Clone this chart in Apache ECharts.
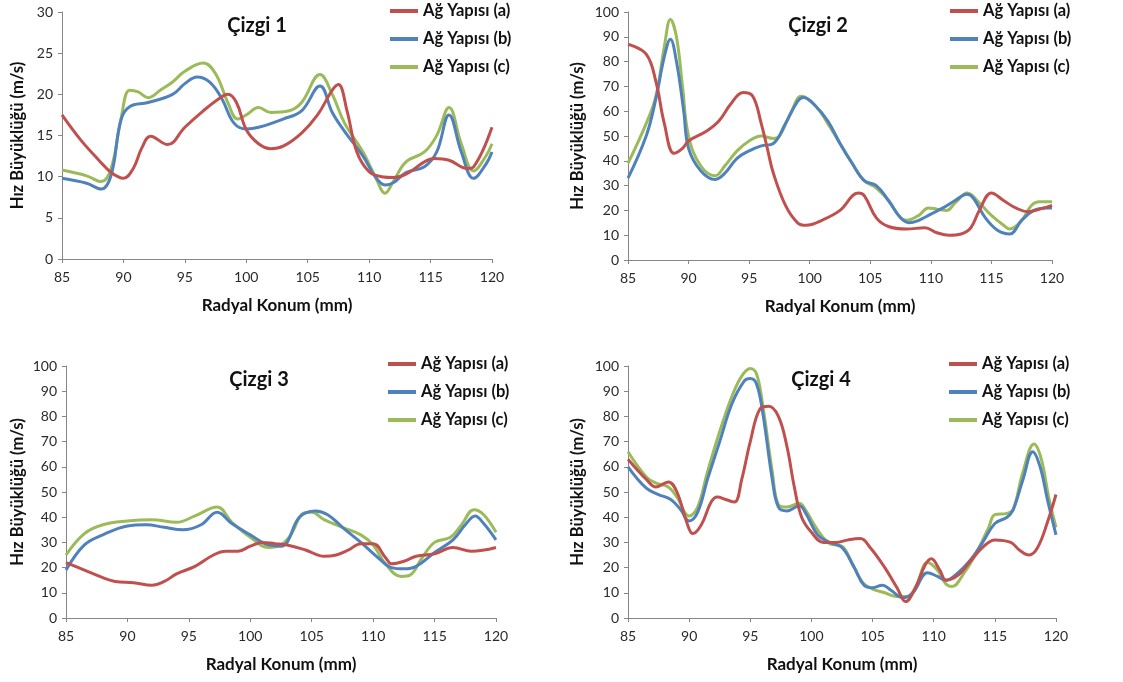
<!DOCTYPE html>
<html>
<head>
<meta charset="utf-8">
<script src="https://cdn.jsdelivr.net/npm/echarts@6/dist/echarts.min.js"></script>
<style>
  html, body { margin: 0; padding: 0; background: #fff; }
  #main { width: 1123px; height: 682px; }
</style>
</head>
<body>
<div id="main"></div>
<script>
// seri adlari ve eksen metinleri
var seriesNames = ['Ağ Yapısı (a)', 'Ağ Yapısı (b)', 'Ağ Yapısı (c)'];
var panelTitles = ['Çizgi 1', 'Çizgi 2', 'Çizgi 3', 'Çizgi 4'];
var xName = 'Radyal Konum (mm)';
var yName = 'Hız Büyüklüğü (m/s)';
var yMax = [30, 100, 100, 100];
var yStep = [5, 10, 10, 10];

// Çizgi 1  [radyal konum, hiz]
var c1a = [[85,17.5],[86.5,14.5],[88,12],[89,10.5],[90,9.8],[90.8,11],[91.5,13.5],[92.2,14.9],[93.6,13.9],[95,16],[96.5,18],[97.8,19.5],[98.5,20],[99.2,19],[100,15.7],[101,14],[102,13.4],[103,13.7],[104.5,15.3],[105.8,17.5],[107,20.5],[107.5,21.2],[108.2,18],[109,13],[110,10.6],[111,10],[112,9.9],[113,10.3],[114.5,11.8],[115.3,12.2],[116.5,12],[118,11],[118.5,11.2],[120,16]];
var c1b = [[85,9.8],[87,9.2],[88.2,8.5],[89,10.2],[89.8,16.9],[90.5,18.5],[92,19],[94,20],[95,21.3],[96,22.1],[97,21.5],[98,19.5],[99,16.5],[100,15.8],[101,16],[103,17],[104.5,18],[106,21],[107,17.8],[108,15.5],[109.5,12.5],[110.5,10],[111.3,9],[112,9.3],[113,10.5],[114.5,11.2],[115.5,13],[116.5,17.5],[117.5,13],[118.5,9.8],[119.5,11.5],[120,13]];
var c1c = [[85,10.8],[87,10.1],[88.2,9.4],[89,11],[89.8,17],[90.5,20.5],[91.2,20.3],[92,19.6],[93,20.5],[94,21.5],[95,22.8],[96.5,23.8],[97.5,22.5],[98.5,19],[99.3,17],[100,17.5],[101,18.4],[102,17.8],[103.5,18],[104.5,19],[106,22.4],[107,20],[108,16.5],[109.5,13],[110.5,10],[111.3,8],[112,9.5],[113,11.8],[114.5,13],[115.5,15],[116.5,18.4],[117.5,14],[118.5,10.7],[119.5,12.5],[120,14]];

// Çizgi 2
var c2a = [[85,87],[86.5,83],[87.3,72],[88,55],[88.8,43],[89.5,45],[90,48],[91.5,52],[92.5,56],[93.5,63],[94.5,67.5],[95.3,66],[96,55],[96.5,45],[97,35],[98,22],[99,15],[99.7,14],[101,16],[102.5,20],[104,27],[104.5,26],[105.5,17],[106.5,13.5],[108,12.5],[109.5,13],[110.5,11],[111.5,10],[112.5,10.5],[113.3,13],[114,20],[115,27],[116,24],[117,21],[118,19.5],[119,20.5],[120,22]];
var c2b = [[85,33],[86.5,50],[87.3,65],[88,82],[88.5,89],[89,80],[89.6,60],[90,45],[91,36],[92.2,32.5],[93,35],[94,41],[95,44],[96,46],[97,47],[98,55],[99,64],[99.5,65.5],[100.5,62],[101.5,56],[102.5,47],[103.5,39],[104.5,32],[105.5,30],[106.5,24],[107.5,17],[108.2,15],[109,16],[110,18.5],[111,21],[112,24],[113,26.5],[113.5,25],[114.5,17],[115.5,12],[116.5,10.5],[117.5,16],[118.5,20],[119.5,21],[120,21]];
var c2c = [[85,39],[86.5,55],[87.3,66],[88,86],[88.5,97],[89,90],[89.5,70],[90,50],[91,38],[92.2,34],[93,38],[94,44],[95,48],[96,50],[97,49],[97.5,50],[98.5,60],[99.3,66],[100.5,62],[101.5,55],[102.5,47],[103.5,39],[104.5,32],[105.5,29],[106.5,24],[107.5,17],[108,16],[109,18],[109.8,21],[110.5,20.5],[111.3,20],[112,23],[113,27],[114,23],[115,18],[116,14],[116.5,12.5],[117.5,16],[118.3,22],[119,23.5],[120,23.5]];

// Çizgi 3
var c3a = [[85,22],[86.5,19],[88,16],[89,14.5],[90.5,14],[92,13],[93,14.5],[94,17.5],[95.5,20.5],[97,25],[98,26.5],[99,26.5],[100,28.5],[101,30],[102,29.5],[103,29],[104.5,27],[106,24.5],[107,25],[108,27],[109,29.5],[110,29.5],[111,24],[111.5,21.5],[112.5,22.5],[113.5,24.5],[115,25.5],[116.5,28],[118,26.5],[120,28]];
var c3b = [[85,19],[86.5,29],[88,33],[90,36.5],[91.5,37],[93,36],[94.5,35],[96,37],[97.3,42],[98.5,37.5],[100,33],[101.5,29],[102.5,28.5],[103,30],[104,40],[105.3,42.5],[106.3,41],[107.5,36],[109,30],[110.5,23.5],[111.5,20],[112.5,19.5],[113.5,20.5],[115,26],[116.5,31],[117.5,37],[118.3,40.5],[119,37.5],[120,31]];
var c3c = [[85,25],[86.5,33.5],[88,37],[90,38.5],[92,39],[94,38],[95.5,40.5],[97.3,44],[98.5,38],[100,32],[101.5,28],[102.5,29],[103.3,33],[104.3,41.5],[105,42],[106,39],[107.5,36],[109,33],[110,29],[111,21.5],[112.3,16.5],[113,17],[114,24],[115,30],[116.3,32],[117.2,37],[118.2,43],[119,41],[120,34]];

// Çizgi 4
var c4a = [[85,63],[86.5,55],[87.3,52],[88.3,54],[89,50],[89.8,38],[90.3,33.5],[91,37],[91.8,46],[92.3,48],[93,47],[93.7,46],[94.3,55],[95,70],[95.8,83],[96.5,84],[97.3,80],[98,68],[98.6,52],[99.2,40],[100,34],[101,30],[102,30],[103,31],[104,31.5],[104.8,28],[106,20],[107,12],[107.7,6.5],[108.5,12],[109.3,21],[109.8,23.5],[110.5,19],[111,15],[112,17],[113,22.5],[114,28],[115,31],[116.3,30],[117,27],[117.8,25],[118.5,28],[119.3,38],[120,49]];
var c4b = [[85,60],[86.5,51.5],[87.5,49],[88.5,47],[89.3,43],[90,38.5],[90.7,42],[91.5,55],[92.5,70],[93.5,85],[94.5,94],[95,95],[95.5,93],[96,82],[96.8,55],[97.3,44],[98,42.5],[99,44.5],[99.6,41],[100.5,33],[101.5,30],[102.5,28],[103.5,20],[104.3,13],[105,12],[105.8,13],[106.5,11],[107.5,8],[108.3,10],[109.5,18],[110.3,16.5],[111,15],[112,18],[113,23],[114,30],[115,37.5],[116,40],[116.5,43],[117.3,55],[118.1,66],[118.7,60],[119.3,47],[120,33]];
var c4c = [[85,66],[86.5,56],[87.3,53.5],[88.3,52],[89,48],[90,40.5],[90.7,44],[91.5,58],[92.5,74],[93.5,88],[94.3,96],[95,99],[95.5,97],[96,85],[96.8,58],[97.3,45],[98,44],[99,45.5],[99.5,43],[100.5,35],[101.5,29.5],[102.5,28.5],[103.3,22],[104.2,14],[105,11.5],[106,10],[107,8.5],[107.8,8.5],[108.5,12],[109.5,22],[110.3,19],[111,13.5],[111.5,12.5],[112.5,18],[113.5,26],[114.5,36],[115,41],[116,41.5],[116.5,43],[117.3,58],[118.2,69],[118.8,63],[119.4,48],[120,36]];

var panelData = [[c1a, c1b, c1c], [c2a, c2b, c2c], [c3a, c3b, c3c], [c4a, c4b, c4c]];
var lineColors = ['#C0504D', '#4F81BD', '#9BBB59'];

// panel yerlesimi (piksel)
var grids = [
    { left: 62, top: 12, width: 430, height: 247 },
    { left: 628, top: 12, width: 424, height: 248 },
    { left: 66, top: 366, width: 430, height: 252 },
    { left: 628, top: 366, width: 428, height: 252 }
];
var yNameGap = [36, 42, 40, 42];
var titlePos = [[252, 11], [813, 11], [254, 365], [816, 365]];
var legendPos = [[390, 2], [950, 2], [388, 355], [949, 355]];

var FONT = 'Lato, "Open Sans", sans-serif';

var myChart = echarts.init(document.getElementById('main'));

var xAxes = [], yAxes = [], series = [], titles = [], legends = [];
grids.forEach(function (g, i) {
    xAxes.push({
        type: 'value',
        gridIndex: i,
        min: 85,
        max: 120,
        interval: 5,
        name: xName,
        nameLocation: 'middle',
        nameGap: 38,
        nameTextStyle: { fontFamily: FONT, fontWeight: 'bold', fontSize: 17, color: '#111' },
        axisLine: { lineStyle: { color: '#868686', width: 1 } },
        axisTick: { show: true, length: 4, lineStyle: { color: '#868686' } },
        axisLabel: { fontFamily: FONT, fontSize: 14, color: '#2a2a2a', margin: 11 },
        splitLine: { show: false }
    });
    yAxes.push({
        type: 'value',
        gridIndex: i,
        min: 0,
        max: yMax[i],
        interval: yStep[i],
        name: yName,
        nameLocation: 'middle',
        nameGap: yNameGap[i],
        nameRotate: 90,
        nameTextStyle: { fontFamily: FONT, fontWeight: 'bold', fontSize: 16.5, color: '#111' },
        axisLine: { show: true, lineStyle: { color: '#868686', width: 1 } },
        axisTick: { show: true, length: 4, lineStyle: { color: '#868686' } },
        axisLabel: { fontFamily: FONT, fontSize: 14, color: '#2a2a2a', margin: 9 },
        splitLine: { show: false }
    });
    titles.push({
        text: panelTitles[i],
        left: titlePos[i][0],
        top: titlePos[i][1],
        textAlign: 'center',
        textStyle: { fontFamily: FONT, fontWeight: 'bold', fontSize: 20, color: '#111' }
    });
    legends.push({
        data: seriesNames,
        orient: 'vertical',
        left: legendPos[i][0],
        top: legendPos[i][1],
        padding: 0,
        itemGap: 10,
        itemWidth: 28,
        itemHeight: 4,
        icon: 'rect',
        textStyle: { fontFamily: FONT, fontWeight: 'bold', fontSize: 16.5, lineHeight: 18, color: '#111' }
    });
    panelData[i].forEach(function (d, k) {
        series.push({
            name: seriesNames[k],
            type: 'line',
            xAxisIndex: i,
            yAxisIndex: i,
            data: d,
            smooth: 0.4,
            symbol: 'none',
            lineStyle: { width: 3, color: lineColors[k] },
            itemStyle: { color: lineColors[k] },
            z: 3 - k
        });
    });
});

myChart.setOption({
    backgroundColor: '#fff',
    animation: false,
    title: titles,
    legend: legends,
    grid: grids,
    xAxis: xAxes,
    yAxis: yAxes,
    series: series
});
</script>
</body>
</html>
